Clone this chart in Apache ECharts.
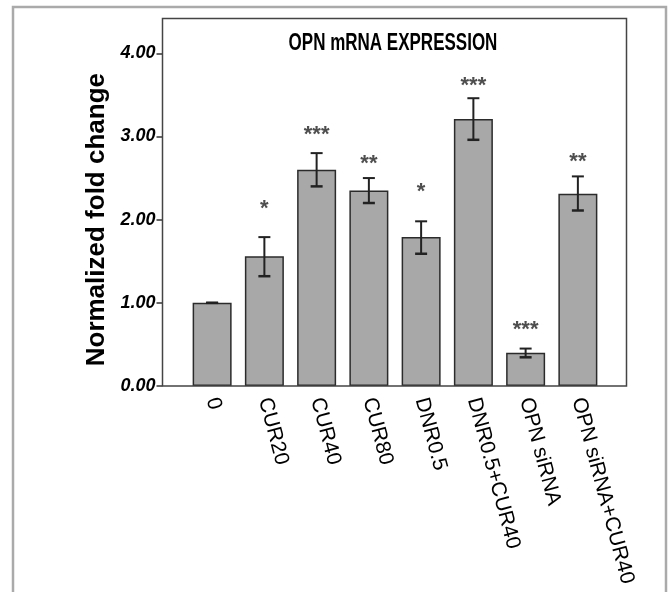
<!DOCTYPE html>
<html>
<head>
<meta charset="utf-8">
<title>OPN mRNA EXPRESSION</title>
<script src="https://cdn.jsdelivr.net/npm/echarts@6/dist/echarts.min.js"></script>
<style>
  html, body { margin: 0; padding: 0; background: #fff; }
  #main { width: 670px; height: 592px; }
</style>
</head>
<body>
<div id="main"></div>
<script>
// groups on the x axis
var groups = ["0", "CUR20", "CUR40", "CUR80", "DNR0.5", "DNR0.5+CUR40", "OPN siRNA", "OPN siRNA+CUR40"];
// mean fold change
var foldChange = [1.00, 1.56, 2.60, 2.35, 1.79, 3.21, 0.40, 2.31];
// error bar ends
var errHigh = [1.00, 1.79, 2.80, 2.50, 1.98, 3.46, 0.45, 2.52];
var errLow = [1.00, 1.32, 2.40, 2.20, 1.59, 2.96, 0.345, 2.11];
// significance marks and where they sit
var stars = ["", "*", "***", "**", "*", "***", "***", "**"];
var starAt = [0, 2.20, 3.09, 2.74, 2.40, 3.68, 0.75, 2.76];
var yTicks = [0, 1, 2, 3, 4];

var chart = echarts.init(document.getElementById("main"));

var errData = groups.map(function (g, i) { return [i, errLow[i], errHigh[i]]; });
var starData = groups.map(function (g, i) { return [i, starAt[i], stars[i]]; })
  .filter(function (d) { return d[2] !== ""; });

chart.setOption({
  animation: false,
  backgroundColor: "#fff",
  graphic: [
    { // outer frame
      type: "rect",
      shape: { x: 13, y: 7, width: 653, height: 620 },
      style: { fill: "none", stroke: "#aaa", lineWidth: 2.5 },
      silent: true
    },
    { // plot box
      type: "rect",
      shape: { x: 162.5, y: 18.5, width: 464, height: 367.5 },
      style: { fill: "none", stroke: "#444", lineWidth: 1.5 },
      silent: true,
      z: 10
    },
    { // title, stretched tall like the original figure
      type: "text",
      x: 393,
      y: 43,
      scaleY: 1.45,
      style: {
        text: "OPN mRNA EXPRESSION",
        align: "center",
        verticalAlign: "middle",
        fontFamily: "Liberation Sans, Arial, sans-serif",
        fontWeight: "bold",
        fontSize: 17,
        fill: "#000"
      },
      silent: true
    }
  ],
  grid: { left: 186, right: 66, top: 53.3, bottom: 206 },
  xAxis: {
    type: "category",
    data: groups,
    axisLine: { show: false },
    axisTick: { alignWithLabel: true, length: 8, lineStyle: { color: "#333", width: 1.5 } },
    axisLabel: {
      interval: 0,
      rotate: -75,
      margin: 12,
      fontFamily: "Liberation Sans, Arial, sans-serif",
      fontSize: 21,
      color: "#000"
    },
    splitLine: { show: false }
  },
  yAxis: {
    type: "value",
    min: 0,
    max: 4,
    interval: 1,
    offset: 23.5,
    name: "Normalized fold change",
    nameLocation: "middle",
    nameGap: 38,
    nameTextStyle: {
      fontFamily: "Liberation Sans, Arial, sans-serif",
      fontWeight: "bold",
      fontSize: 26,
      color: "#000"
    },
    axisLine: { show: false },
    axisTick: { show: true, length: 6, lineStyle: { color: "#333", width: 1.5 } },
    axisLabel: {
      margin: 7,
      fontFamily: "Liberation Sans, Arial, sans-serif",
      fontWeight: "bold",
      fontStyle: "italic",
      fontSize: 18,
      color: "#000",
      formatter: function (v) { return yTicks.indexOf(v) >= 0 ? v.toFixed(2) : ""; }
    },
    splitLine: { show: false }
  },
  series: [
    {
      type: "bar",
      data: foldChange,
      barWidth: 39,
      itemStyle: { color: "#a8a8a8", borderColor: "#2b2b2b", borderWidth: 1.5 }
    },
    {
      type: "custom",
      data: errData,
      z: 5,
      renderItem: function (params, api) {
        var lo = api.coord([api.value(0), api.value(1)]);
        var hi = api.coord([api.value(0), api.value(2)]);
        var w = 6;
        var st = { stroke: "#222", lineWidth: 2 };
        return {
          type: "group",
          children: [
            { type: "line", shape: { x1: hi[0], y1: hi[1], x2: lo[0], y2: lo[1] }, style: st },
            { type: "line", shape: { x1: hi[0] - w, y1: hi[1], x2: hi[0] + w, y2: hi[1] }, style: st },
            { type: "line", shape: { x1: lo[0] - w, y1: lo[1], x2: lo[0] + w, y2: lo[1] }, style: { stroke: "#222", lineWidth: 2.5 } }
          ]
        };
      }
    },
    {
      type: "scatter",
      data: starData,
      symbolSize: 1,
      itemStyle: { color: "rgba(0,0,0,0)" },
      label: {
        show: true,
        position: "inside",
        offset: [0, 6],
        formatter: function (p) { return p.value[2]; },
        fontFamily: "Liberation Sans, Arial, sans-serif",
        fontWeight: "bold",
        fontSize: 22,
        color: "#222"
      }
    }
  ]
});
</script>
</body>
</html>
